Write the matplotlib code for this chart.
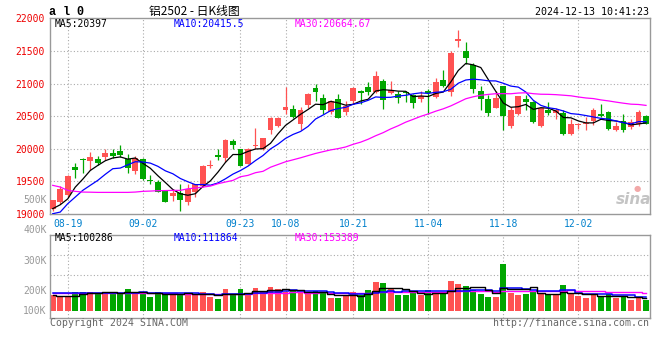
import numpy as np
import pandas as pd
import matplotlib
matplotlib.use("Agg")
import matplotlib.pyplot as plt

# ---------------- data ----------------
holidays = ["2024-09-16", "2024-09-17", "2024-10-01", "2024-10-02",
            "2024-10-03", "2024-10-04", "2024-10-07"]
trade_dates = [d for d in pd.bdate_range("2024-08-15", "2024-12-13")
               if d.strftime("%Y-%m-%d") not in holidays]

opens = [19074, 19182, 19284, 19719, 19842, 19806, 19837, 19873, 19934, 19965,
         19847, 19653, 19847, 19525, 19494, 19351, 19274, 19320, 19182, 19335,
         19427, 19735, 19903, 19863, 20118, 19990, 19770, 20047, 19990, 20282,
         20344, 20589, 20605, 20379, 20666, 20937, 20784, 20564, 20758, 20564,
         20733, 20881, 20947, 20871, 21034, 20861, 20835, 20876, 20820, 20758,
         20881, 20789, 21050, 20871, 21654, 21495, 21280, 20881, 20768, 20625,
         20958, 20343, 20533, 20758, 20717, 20349, 20589, 20553, 20548, 20221,
         20359, 20374, 20425, 20538, 20558, 20282, 20420, 20333, 20374, 20497]
highs = [19215, 19422, 19591, 19786, 19857, 19949, 19888, 19995, 20001, 20052,
         19924, 19883, 19850, 19601, 19525, 19360, 19386, 19463, 19463, 19463,
         19745, 19822, 20001, 20154, 20154, 20000, 20016, 20313, 20165, 20480,
         20480, 20947, 20666, 20635, 20855, 20999, 20845, 20753, 20835, 20728,
         20947, 20907, 21024, 21188, 21075, 21034, 20881, 20890, 20845, 20881,
         20912, 21091, 21214, 21495, 21828, 21638, 21316, 20958, 20820, 20886,
         20965, 20641, 20810, 20820, 20725, 20635, 20717, 20625, 20600, 20451,
         20400, 20487, 20630, 20692, 20575, 20410, 20538, 20461, 20589, 20512]
lows = [19050, 19156, 19258, 19555, 19627, 19678, 19745, 19832, 19862, 19873,
        19627, 19607, 19514, 19463, 19335, 19182, 19197, 19043, 19130, 19258,
        19412, 19704, 19822, 19796, 20001, 19730, 19760, 20001, 19985, 20231,
        20330, 20528, 20471, 20292, 20628, 20732, 20528, 20538, 20470, 20513,
        20692, 20692, 20820, 20860, 20604, 20835, 20702, 20717, 20625, 20717,
        20528, 20780, 20947, 20804, 21562, 21295, 20855, 20600, 20497, 20620,
        20282, 20318, 20512, 20589, 20395, 20340, 20523, 20461, 20205, 20210,
        20308, 20282, 20359, 20490, 20282, 20275, 20257, 20308, 20343, 20380]
closes = [19207, 19386, 19576, 19668, 19825, 19873, 19775, 19934, 19883, 19904,
          19704, 19862, 19530, 19499, 19335, 19182, 19320, 19207, 19386, 19453,
          19735, 19755, 19873, 20134, 20057, 19735, 19990, 20062, 20159, 20466,
          20466, 20635, 20482, 20589, 20835, 20871, 20600, 20733, 20477, 20656,
          20937, 20850, 20871, 21111, 20753, 20896, 20784, 20856, 20702, 20804,
          20856, 21019, 20963, 21470, 21690, 21393, 20912, 20758, 20548, 20784,
          20497, 20589, 20804, 20717, 20410, 20625, 20548, 20589, 20221, 20385,
          20385, 20400, 20589, 20497, 20297, 20343, 20282, 20410, 20564, 20385]
volumes = [128000, 123000, 123000, 155000, 155000, 155000, 142000, 155000, 142000, 142000,
           177000, 134000, 155000, 114000, 155000, 142000, 134000, 128000, 147000, 128000,
           155000, 114000, 95000, 177000, 128000, 177000, 142000, 188000, 161000, 196000,
           177000, 155000, 161000, 142000, 136000, 161000, 155000, 101000, 101000, 128000,
           153000, 128000, 169000, 234000, 226000, 185000, 128000, 128000, 142000, 128000,
           169000, 142000, 134000, 243000, 221000, 202000, 169000, 136000, 112000, 112000,
           384000, 147000, 128000, 136000, 161000, 142000, 128000, 128000, 210000, 136000,
           120000, 106000, 128000, 120000, 136000, 106000, 120000, 87000, 101000, 87000]

# moving-average values before enough history exists
ma5_head = [19080, 19140, 19230, 19410]
ma10_head = [19003, 19028, 19156, 19258, 19361, 19438, 19514, 19607, 19693]
ma30_head = [19438, 19412, 19361, 19346, 19335, 19333, 19330, 19330, 19330, 19330,
             19330, 19335, 19346, 19350, 19356, 19358, 19361, 19361, 19386, 19396,
             19412, 19427, 19463, 19489, 19514, 19570, 19591, 19632, 19653]
vol_ma5_head = [128000, 118000, 118000, 120000]
vol_ma10_head = [143000, 142000, 142000, 142000, 141000, 141000, 141000, 141000, 141000]
vol_ma30_head = [147000, 147000, 146000, 146000, 146000, 145000, 145000, 145000, 144000, 144000,
                 144000, 143000, 143000, 142000, 142000, 141000, 141000, 140000, 140000, 139000,
                 138000, 137000, 137000, 137000, 138000, 139000, 140000, 141000, 143000]

ma_names = ["MA5", "MA10", "MA30"]
price_ma_values = ["20397", "20415.5", "20664.67"]
vol_ma_values = ["100286", "111864", "153389"]
date_ticks = ["08-19", "09-02", "09-23", "10-08", "10-21", "11-04", "11-18", "12-02"]
price_ticks = [19000, 19500, 20000, 20500, 21000, 21500, 22000]
vol_labels = ["500K", "400K", "300K", "200K", "100K"]

title_code = "a l 0"
title_name = "铝2502 - 日K线图"
timestamp = "2024-12-13 10:41:23"
copyright_text = "Copyright 2024 SINA.COM"
url_text = "http://finance.sina.com.cn"

# ---------------- style ----------------
W, H = 660, 360
RED = "#ff5252"
GREEN = "#00a600"
MA_COLORS = ["#000000", "#0000ff", "#ff00ff"]
GRID = "#aaaaaa"
SPINE = "#999999"
MONO = "DejaVu Sans Mono"


def fx(px):
    return px / W


def fy(py):
    return 1 - py / H


def with_head(series, n, head):
    out = pd.Series(series, dtype=float).rolling(n).mean().to_numpy()
    out[:len(head)] = head
    return out


fig = plt.figure(figsize=(W / 100, H / 100), dpi=100)
fig.patch.set_facecolor("white")

ax = fig.add_axes([fx(50), fy(213.9), 600 / W, (213.9 - 18.3) / H])
axv = fig.add_axes([fx(50), fy(318), 600 / W, 83 / H])

n = len(closes)
x = np.arange(n)
o = np.array(opens, float)
hi = np.array(highs, float)
lo = np.array(lows, float)
c = np.array(closes, float)
up = c >= o
colors = np.where(up, RED, GREEN)

xlim = (-0.36, n - 1 + 0.53)
tick_idx = [i for i, d in enumerate(trade_dates) if d.strftime("%m-%d") in date_ticks]
tick_lbl = [trade_dates[i].strftime("%m-%d") for i in tick_idx]

# ---- price panel ----
for yv in price_ticks[1:-1]:
    ax.axhline(yv, color=GRID, lw=0.8, ls=(0, (1, 2)), zorder=0)
for xi in tick_idx:
    ax.axvline(xi, color=GRID, lw=0.8, ls=(0, (1, 2)), zorder=0)

ax.vlines(x, lo, hi, colors=colors, lw=0.9, zorder=2)
body_bottom = np.minimum(o, c)
body_h = np.maximum(np.abs(c - o), 14)
ax.bar(x, body_h, bottom=body_bottom, width=0.78, color=colors, linewidth=0, zorder=3)

ma5 = with_head(closes, 5, ma5_head)
ma10 = with_head(closes, 10, ma10_head)
ma30 = with_head(closes, 30, ma30_head)
for ser, col in zip([ma5, ma10, ma30], MA_COLORS):
    ax.plot(x, ser, color=col, lw=0.9, zorder=4)

ax.set_xlim(*xlim)
ax.set_ylim(price_ticks[0], price_ticks[-1])
ax.set_yticks(price_ticks)
ax.set_yticklabels([str(t) for t in price_ticks], color="#ee0000",
                   fontsize=7, family=MONO)
ax.set_xticks(tick_idx)
ax.set_xticklabels(tick_lbl, color="#0080cc", fontsize=7, family=MONO)
ax.tick_params(axis="both", length=0)
ax.tick_params(axis="y", pad=3.5)
ax.tick_params(axis="x", pad=4)
for sp in ax.spines.values():
    sp.set_color(SPINE)
    sp.set_linewidth(1.0)

# legend inside price panel
for name, val, col, px in zip(ma_names, price_ma_values, MA_COLORS, [55, 174, 295]):
    fig.text(fx(px), fy(24), f"{name}:{val}", color=col, fontsize=7,
             family=MONO, va="center", ha="left")

# sina watermark
fig.text(fx(634), fy(200), "sina", color="#c4c4c4", fontsize=11,
         fontweight="bold", style="italic", ha="center", va="center",
         family="DejaVu Sans")
fig.text(fx(637), fy(188), "\u25cf", color="#f2a8a8", fontsize=6,
         ha="center", va="center", family="DejaVu Sans")

# ---- volume panel ----
v = np.array(volumes, float)
axv.bar(x, v, width=0.78, color=colors, linewidth=0, zorder=2)
vma5 = with_head(volumes, 5, vol_ma5_head)
vma10 = with_head(volumes, 10, vol_ma10_head)
vma30 = with_head(volumes, 30, vol_ma30_head)
for ser, col, lw in zip([vma30, vma10, vma5], MA_COLORS[::-1], [1.0, 1.1, 1.0]):
    axv.plot(x, ser, color=col, lw=lw, drawstyle="steps-mid", zorder=3)

axv.set_xlim(*xlim)
axv.set_ylim(-59700, 619000)
for frac in [(318 - 255) / 83, (318 - 275) / 83]:
    axv.plot([0, 1], [frac, frac], transform=axv.transAxes, color=GRID,
             lw=0.8, ls=(0, (1, 2)), zorder=0)
for xi in tick_idx:
    axv.axvline(xi, color=GRID, lw=0.8, ls=(0, (1, 2)), zorder=0)
axv.set_xticks([])
axv.set_yticks([])
for sp in axv.spines.values():
    sp.set_color(SPINE)
    sp.set_linewidth(1.0)

for name, val, col, px in zip(ma_names, vol_ma_values, MA_COLORS, [55, 174, 295]):
    fig.text(fx(px), fy(238), f"{name}:{val}", color=col, fontsize=7,
             family=MONO, va="center", ha="left")

for lbl, py in zip(vol_labels, [200, 230, 261, 291, 310.5]):
    fig.text(fx(46.5), fy(py), lbl, color="#999999", fontsize=7, family=MONO,
             ha="right", va="center")

# ---- header / footer ----
fig.text(fx(49), fy(12), title_code, fontsize=8.5, fontweight="bold",
         family="Liberation Mono", va="center", ha="left")
fig.text(fx(194), fy(12), title_name, fontsize=8.5,
         family=["Noto Sans CJK SC", "DejaVu Sans"], va="center", ha="center")
fig.text(fx(649), fy(12), timestamp, fontsize=7.2, family=MONO,
         va="center", ha="right")
fig.text(fx(50), fy(323.5), copyright_text, fontsize=7.1, family=MONO,
         color="#666666", va="center", ha="left")
fig.text(fx(649), fy(323.5), url_text, fontsize=7.1, family=MONO,
         color="#666666", va="center", ha="right")

fig.savefig("out.png", dpi=100)
